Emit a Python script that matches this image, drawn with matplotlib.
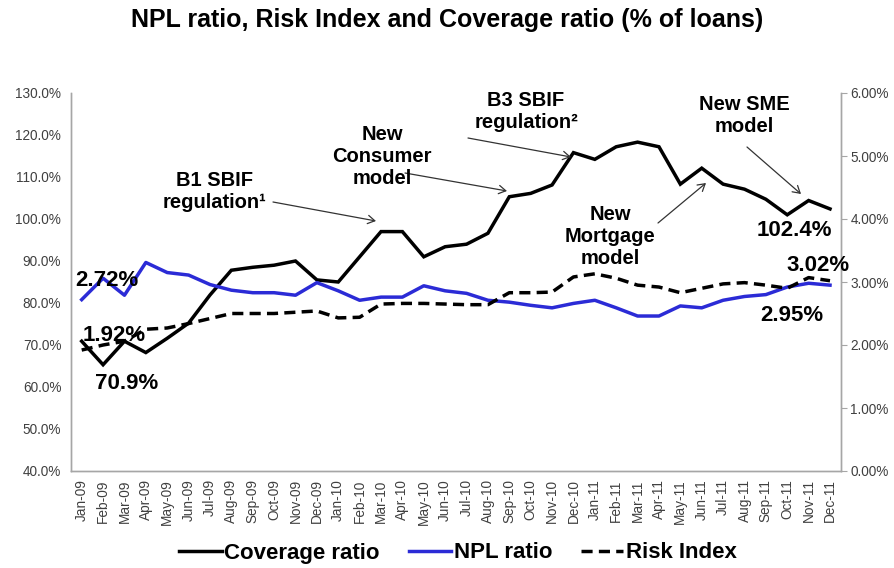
import matplotlib
matplotlib.use("Agg")
import matplotlib.pyplot as plt
from matplotlib.ticker import FuncFormatter, MultipleLocator

plt.rcParams['font.family'] = ['Liberation Sans', 'DejaVu Sans']

months = ["Jan-09", "Feb-09", "Mar-09", "Apr-09", "May-09", "Jun-09", "Jul-09", "Aug-09",
          "Sep-09", "Oct-09", "Nov-09", "Dec-09", "Jan-10", "Feb-10", "Mar-10", "Apr-10",
          "May-10", "Jun-10", "Jul-10", "Aug-10", "Sep-10", "Oct-10", "Nov-10", "Dec-10",
          "Jan-11", "Feb-11", "Mar-11", "Apr-11", "May-11", "Jun-11", "Jul-11", "Aug-11",
          "Sep-11", "Oct-11", "Nov-11", "Dec-11"]

coverage = [70.9, 65.3, 70.9, 68.2, 71.6, 75.2, 81.9, 87.8, 88.5, 89.0, 90.0, 85.5,
            85.0, 91.0, 97.0, 97.0, 91.0, 93.4, 94.0, 96.6, 105.3, 106.1, 108.1, 115.8,
            114.2, 117.2, 118.3, 117.2, 108.3, 112.1, 108.3, 107.1, 104.7, 101.0, 104.4, 102.4]

npl = [2.72, 3.06, 2.79, 3.31, 3.15, 3.11, 2.96, 2.87, 2.83, 2.83, 2.79, 2.99,
       2.86, 2.71, 2.76, 2.76, 2.94, 2.86, 2.82, 2.71, 2.68, 2.63, 2.59, 2.66,
       2.71, 2.59, 2.46, 2.46, 2.62, 2.59, 2.71, 2.77, 2.80, 2.92, 2.98, 2.95]

risk = [1.92, 2.00, 2.06, 2.25, 2.27, 2.34, 2.42, 2.50, 2.50, 2.50, 2.52, 2.54,
        2.43, 2.44, 2.65, 2.66, 2.66, 2.65, 2.64, 2.64, 2.83, 2.83, 2.84, 3.08,
        3.13, 3.06, 2.95, 2.92, 2.83, 2.90, 2.97, 2.99, 2.95, 2.90, 3.07, 3.02]

series_names = ["Coverage ratio", "NPL ratio", "Risk Index"]
title = "NPL ratio, Risk Index and Coverage ratio (% of loans)"

W, H = 894, 568
fig = plt.figure(figsize=(W / 100, H / 100), dpi=100)
ax = fig.add_axes([71 / W, 1 - 471 / H, (840.7 - 71) / W, (471 - 93) / H])
ax2 = ax.twinx()

x = list(range(len(months)))
blue = '#2B2BD6'
l1, = ax.plot(x, coverage, color='black', lw=2.5, solid_joinstyle='miter', zorder=3)
l2, = ax2.plot(x, npl, color=blue, lw=2.5, zorder=3)
l3, = ax2.plot(x, risk, color='black', lw=2.5, dashes=(3.2, 1.8), zorder=3)

ax.set_xlim(-0.5, len(months) - 0.5)
ax.set_ylim(40, 130)
ax2.set_ylim(0, 6)
ax.yaxis.set_major_locator(MultipleLocator(10))
ax2.yaxis.set_major_locator(MultipleLocator(1))
ax.yaxis.set_major_formatter(FuncFormatter(lambda v, p: f"{v:.1f}%"))
ax2.yaxis.set_major_formatter(FuncFormatter(lambda v, p: f"{v:.2f}%"))
ax.set_xticks(x)
ax.set_xticklabels(months, rotation=90, fontsize=9.8, color='#404040')

gray = '#A6A6A6'
for a in (ax, ax2):
    a.spines['top'].set_visible(False)
    for s in ('left', 'right', 'bottom'):
        a.spines[s].set_color(gray)
        a.spines[s].set_linewidth(1.0)
ax.tick_params(axis='y', length=0, labelsize=9.8, labelcolor='#404040', pad=7)
ax.tick_params(axis='x', length=0, pad=6)
ax2.tick_params(axis='y', length=4, color=gray, labelsize=9.8, labelcolor='#404040', pad=3)

# Title
fig.text(0.5, 1 - 20 / H, title, ha='center', va='center', fontsize=18, fontweight='bold')

# Data labels
lab_kw = dict(textcoords='offset pixels', ha='center', va='center', fontsize=16, fontweight='bold', zorder=5)
ax.annotate(f"{coverage[0]:.1f}%", xy=(0, coverage[0]), xytext=(45, -42), **lab_kw)
ax2.annotate(f"{npl[0]:.2f}%", xy=(0, npl[0]), xytext=(25, 19), **lab_kw)
ax2.annotate(f"{risk[0]:.2f}%", xy=(0, risk[0]), xytext=(32, 15), **lab_kw)
n = len(months) - 1
ax.annotate(f"{coverage[n]:.1f}%", xy=(n, coverage[n]), xytext=(-36, -22), **lab_kw)
ax2.annotate(f"{risk[n]:.2f}%", xy=(n, risk[n]), xytext=(-12, 15), **lab_kw)
ax2.annotate(f"{npl[n]:.2f}%", xy=(n, npl[n]), xytext=(-38, -30), **lab_kw)

# Event annotations (figure pixel positions)
def fp(px, py):
    return (px / W, 1 - py / H)

ann_kw = dict(ha='center', va='center', fontsize=14.5, fontweight='bold', linespacing=1.2)
events = [
    ("B1 SBIF\nregulation\u00b9", (214, 192), (273, 202), (376, 221)),
    ("New\nConsumer\nmodel", (382, 157), (405, 173), (507, 191)),
    ("B3 SBIF\nregulation\u00b2", (526, 111), (468, 138), (571, 157)),
    ("New\nMortgage\nmodel", (610, 237), (658, 223), (706, 183)),
    ("New SME\nmodel", (744, 115), (747, 147), (801, 194)),
]
for txt, tpos, tail, head in events:
    fig.text(*fp(*tpos), txt, **ann_kw)
    fig.add_artist(matplotlib.patches.FancyArrowPatch(
        fp(*tail), fp(*head), transform=fig.transFigure,
        arrowstyle='->,head_length=5,head_width=3', color='#333333', lw=0.9,
        shrinkA=0, shrinkB=0))

# Legend
fig.legend([l1, l2, l3], series_names, loc='center', ncol=3, frameon=False,
           bbox_to_anchor=(458 / W, 1 - 553 / H), prop={'weight': 'bold', 'size': 16},
           handlelength=1.9, handletextpad=0.12, columnspacing=1.3)

fig.savefig("out.png", dpi=100)
